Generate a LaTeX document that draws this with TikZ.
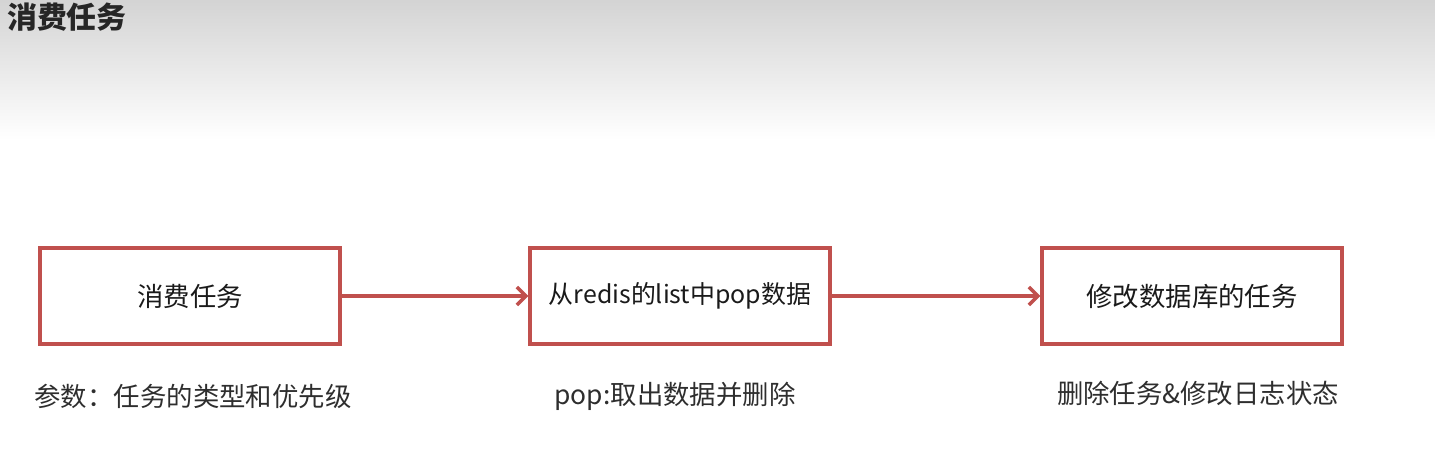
\documentclass[tikz,border=0pt]{standalone}
\usepackage{fontspec}
\setmainfont{Noto Sans CJK SC}
\usetikzlibrary{arrows.meta}
\definecolor{boxred}{HTML}{C0504D}
\definecolor{txt}{HTML}{1A1A1A}
\definecolor{lbl}{HTML}{2E2E2E}
\begin{document}
\begin{tikzpicture}[x=1bp,y=-1bp,
  stepbox/.style={draw=boxred,line width=3.5bp,minimum width=300bp,minimum height=96bp,inner sep=0pt,text=txt,font=\fontsize{26.5}{30}\selectfont},
  flow/.style={draw=boxred,line width=3.5bp,-{Straight Barb[length=9bp,width=18bp,line width=3.5bp]}},
  note/.style={text=lbl,font=\fontsize{26.5}{30}\selectfont,inner sep=0pt}]
\useasboundingbox (0,0) rectangle (1435,453);
\shade[top color=black!17,bottom color=white] (0,0) rectangle (1435,140);
\node[anchor=north west,inner sep=0pt,text=black!85,font=\fontsize{30}{34}\selectfont\bfseries] (title) at (7,3) {消费任务};
\node[stepbox] (b1) at (190,296) {消费任务};
\node[stepbox,font=\fontsize{25}{30}\selectfont] (b2) at (680,296) {从redis的list中pop数据};
\node[stepbox] (b3) at (1192,296) {修改数据库的任务};
\draw[flow] (b1) -- (b2);
\draw[flow] (b2) -- (b3);
\node[note] (n1) at (193,396) {参数：任务的类型和优先级};
\node[note] (n2) at (675,396) {pop:取出数据并删除};
\node[note] (n3) at (1198,393) {删除任务\&修改日志状态};
\end{tikzpicture}
\end{document}
